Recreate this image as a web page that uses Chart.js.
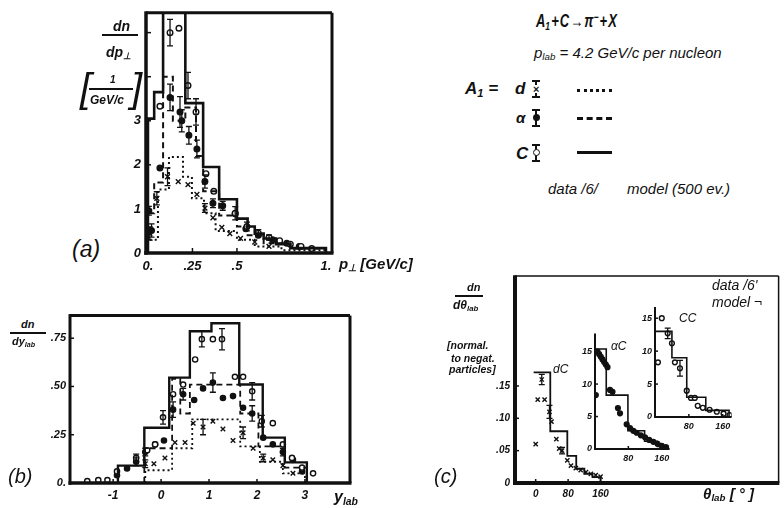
<!DOCTYPE html>
<html>
<head>
<meta charset="utf-8">
<script src="https://cdn.jsdelivr.net/npm/chart.js@4.4.1/dist/chart.umd.min.js"></script>
<style>
  html, body { margin: 0; padding: 0; background: #fff; }
  #page { position: relative; width: 784px; height: 508px; overflow: hidden;
    font-family: 'Liberation Sans', Arial, sans-serif; font-style: italic; font-weight: bold; color: #111; }
  canvas { position: absolute; }
  .t { position: absolute; white-space: nowrap; line-height: 1; }
  .bar { position: absolute; background: #111; }
  .ln { position: absolute; width: 35px; height: 0; border-top: 3px solid #111; }
  .eb { position: absolute; width: 8px; height: 18px; }
  .eb .v { position: absolute; left: 3px; top: 0; width: 2px; height: 18px; background: #111; }
  .eb .c1, .eb .c2 { position: absolute; left: 0; width: 8px; height: 2px; background: #111; }
  .eb .c1 { top: 0; } .eb .c2 { bottom: 0; }
  .eb .m { position: absolute; left: 0; top: 5px; width: 8px; height: 8px; font-size: 11px; text-align: center; line-height: 8px; }
  sub { font-size: 65%; vertical-align: -0.25em; }
  sup { font-size: 65%; vertical-align: 0.55em; }
</style>
</head>
<body>
<div id="page">
  <canvas id="chartA" width="224" height="276" style="left:118px;top:0px"></canvas>
  <canvas id="chartB" width="320" height="200" style="left:40px;top:305px"></canvas>
  <canvas id="chartC" width="300" height="243" style="left:484px;top:265px"></canvas>
  <canvas id="chartCA" width="105" height="145" style="left:570px;top:325px"></canvas>
  <canvas id="chartCC" width="109" height="142" style="left:628px;top:298px"></canvas>

  <!-- panel (a) labels -->
  <div class="t" style="left:113px;top:19px;font-size:14px">dn</div>
  <div class="bar" style="left:102px;top:34px;width:36px;height:2px"></div>
  <div class="t" style="left:106px;top:45px;font-size:14px">dp<sub>⊥</sub></div>
  <div class="t" style="left:80px;top:68px;font-size:40px;font-weight:normal">[</div>
  <div class="t" style="left:110px;top:75px;font-size:10px">1</div>
  <div class="bar" style="left:89px;top:88px;width:44px;height:1.5px"></div>
  <div class="t" style="left:90px;top:94px;font-size:12px">GeV/c</div>
  <div class="t" style="left:131px;top:68px;font-size:40px;font-weight:normal">]</div>
  <div class="t" style="left:72px;top:238px;font-size:23px;font-weight:normal">(a)</div>
  <div class="t" style="left:339px;top:256px;font-size:15px">p<sub>⊥</sub> [GeV/c]</div>

  <!-- legend -->
  <div class="t" style="left:536px;top:11px;font-size:18px;transform:scaleX(0.72);transform-origin:left top">A<sub>1</sub>&#8202;+&#8202;C&#8202;→&#8202;π<sup>−</sup>&#8202;+&#8202;X</div>
  <div class="t" style="left:534px;top:45px;font-size:15px;font-weight:normal">p<sub>lab</sub> = 4.2 GeV/c per nucleon</div>
  <div class="t" style="left:465px;top:80px;font-size:17px">A<sub>1</sub> =</div>
  <div class="t" style="left:515px;top:80px;font-size:17px">d</div>
  <div class="t" style="left:516px;top:110px;font-size:15px">α</div>
  <div class="t" style="left:516px;top:145px;font-size:17px">C</div>
  <div class="eb" style="left:532px;top:80px"><div class="v"></div><div class="c1"></div><div class="c2"></div><div class="m" style="background:#fff">×</div></div>
  <div class="eb" style="left:532px;top:109px"><div class="v"></div><div class="c1"></div><div class="c2"></div><div class="m"><div style="width:7px;height:7px;border-radius:50%;background:#111;margin:0 auto"></div></div></div>
  <div class="eb" style="left:532px;top:144px"><div class="v"></div><div class="c1"></div><div class="c2"></div><div class="m"><div style="width:5px;height:5px;border-radius:50%;border:1.5px solid #111;background:#fff;margin:0 auto"></div></div></div>
  <div class="ln" style="left:577px;top:89px;border-top-style:dotted"></div>
  <div class="ln" style="left:577px;top:117px;border-top-style:dashed"></div>
  <div class="ln" style="left:577px;top:151px"></div>
  <div class="t" style="left:548px;top:181px;font-size:15px;font-weight:normal">data /6/</div>
  <div class="t" style="left:627px;top:181px;font-size:15px;font-weight:normal">model (500 ev.)</div>

  <!-- panel (b) labels -->
  <div class="t" style="left:21px;top:319px;font-size:11px">dn</div>
  <div class="bar" style="left:10px;top:332px;width:36px;height:1.5px"></div>
  <div class="t" style="left:12px;top:336px;font-size:11px">dy<sub>lab</sub></div>
  <div class="t" style="left:8px;top:466px;font-size:20px;font-weight:normal">(b)</div>
  <div class="t" style="left:334px;top:489px;font-size:16px">y<sub>lab</sub></div>

  <!-- panel (c) labels -->
  <div class="t" style="left:467px;top:282px;font-size:11px">dn</div>
  <div class="bar" style="left:455px;top:295px;width:28px;height:1.5px"></div>
  <div class="t" style="left:453px;top:299px;font-size:12px">dθ<sub>lab</sub></div>
  <div class="t" style="left:447px;top:340px;font-size:10.5px">[normal.</div>
  <div class="t" style="left:451px;top:353px;font-size:10.5px">to negat.</div>
  <div class="t" style="left:449px;top:364px;font-size:10.5px">particles]</div>
  <div class="t" style="left:434px;top:466px;font-size:20px;font-weight:normal">(c)</div>
  <div class="t" style="left:703px;top:486px;font-size:15px">θ<sub>lab</sub> [ ° ]</div>
  <div class="t" style="left:712px;top:278px;font-size:14px;font-weight:normal">data /6'</div>
  <div class="t" style="left:712px;top:295px;font-size:14px;font-weight:normal">model ¬</div>
  <div class="t" style="left:553px;top:363px;font-size:12px;font-weight:normal">dC</div>
  <div class="t" style="left:611px;top:340px;font-size:12px;font-weight:normal">αC</div>
  <div class="t" style="left:679px;top:312px;font-size:12px;font-weight:normal">CC</div>
</div>

<script>
'use strict';

// ---- panel (a): dn/dp_perp ----
let aXTicks = [0, 0.25, 0.5, 1.0];
let aXTickLabels = ['0.', '.25', '.5', '1.'];
let aYTicks = [0, 1, 2, 3, 4, 5];
let aYTickLabels = ['0', '1', '2', '3', '', ''];

let aEdgesC = [0, 0.035, 0.085, 0.21, 0.31, 0.40, 0.50, 0.56, 0.60, 0.65, 0.72, 0.80, 1.0];
let aModelC = [3.05, 3.65, 5.6, 3.4, 1.95, 1.22, 0.78, 0.6, 0.44, 0.33, 0.2, 0.11];
let aEdgesA = [0, 0.035, 0.085, 0.14, 0.21, 0.27, 0.31, 0.40, 0.50, 0.56, 0.65, 0.80, 1.0];
let aModelA = [0.9, 1.6, 4.0, 3.0, 3.3, 2.2, 1.4, 0.85, 0.6, 0.4, 0.22, 0.1];
let aEdgesD = [0, 0.056, 0.118, 0.197, 0.247, 0.315, 0.38, 0.5, 0.6, 0.75, 1.0];
let aModelD = [0.3, 1.44, 2.18, 1.73, 1.24, 0.9, 0.5, 0.3, 0.15, 0.06];

let aDataCx = [0.067, 0.124, 0.174, 0.225, 0.27, 0.326, 0.37, 0.49, 0.556, 0.62, 0.68, 0.74, 0.8, 0.86, 0.92];
let aDataCy = [3.33, 5.0, 5.1, 3.8, 3.2, 1.8, 1.4, 0.9, 0.6, 0.45, 0.35, 0.28, 0.2, 0.15, 0.1];
let aDataCe = [0, 0.3, 0, 0.3, 0.3, 0, 0, 0.15, 0.1, 0.08, 0.06, 0, 0, 0, 0];
let aDataAx = [0.005, 0.02, 0.067, 0.124, 0.18, 0.19, 0.23, 0.275, 0.32, 0.365, 0.42, 0.49, 0.55, 0.62, 0.7, 0.78, 0.85];
let aDataAy = [0.96, 0.51, 1.93, 3.53, 3.2, 3.0, 2.67, 2.36, 1.62, 1.13, 1.07, 0.89, 0.55, 0.4, 0.3, 0.22, 0.15];
let aDataAe = [0.1, 0.15, 0, 0.3, 0.35, 0.25, 0.2, 0.2, 0.15, 0.1, 0.1, 0, 0, 0, 0, 0, 0];
let aDataDx = [0.01, 0.05, 0.11, 0.17, 0.225, 0.275, 0.32, 0.365, 0.415, 0.46, 0.52, 0.6, 0.68];
let aDataDy = [0.44, 1.24, 1.73, 1.62, 1.55, 1.33, 1.02, 0.8, 0.58, 0.44, 0.33, 0.25, 0.15];
let aDataDe = [0.15, 0.15, 0.2, 0, 0, 0, 0.1, 0, 0, 0, 0, 0, 0];

// ---- panel (b): dn/dy_lab ----
let bXTicks = [-1, 0, 1, 2, 3];
let bXTickLabels = ['-1', '0', '1', '2', '3'];
let bYTicks = [0, 0.25, 0.5, 0.75];
let bYTickLabels = ['0.', '.25', '.50', '.75'];

let bEdgesC = [-0.9, -0.35, 0.17, 0.6, 1.05, 1.63, 2.12, 2.58, 3.04];
let bModelC = [0.09, 0.286, 0.546, 0.786, 0.827, 0.51, 0.235, 0.107];
let bEdgesA = [-0.35, 0.23, 0.4, 0.6, 1.65, 2.03, 2.58, 3.04];
let bModelA = [0.18, 0.54, 0.36, 0.51, 0.36, 0.19, 0.08];
let bEdgesD = [-0.33, 0.23, 0.65, 1.65, 2.06, 2.54, 3.0];
let bModelD = [0.066, 0.18, 0.33, 0.19, 0.11, 0.05];

let bDataCx = [-1.54, -1.31, -1.12, -0.92, -0.52, -0.29, -0.125, 0.04, 0.25, 0.46, 0.71, 0.85, 1.08, 1.27, 1.54, 1.71, 1.9, 2.1, 2.33, 2.54, 2.73, 2.94, 3.17];
let bDataCy = [0.01, 0.015, 0.015, 0.06, 0.13, 0.17, 0.2, 0.34, 0.46, 0.51, 0.64, 0.745, 0.745, 0.745, 0.55, 0.55, 0.475, 0.32, 0.31, 0.2, 0.13, 0.08, 0.05];
let bDataCe = [0, 0, 0, 0, 0.02, 0, 0, 0.035, 0, 0, 0, 0.04, 0, 0.055, 0, 0, 0.045, 0.03, 0, 0, 0, 0, 0];
let bDataAx = [-0.92, -0.71, -0.52, -0.33, -0.125, 0.06, 0.25, 0.46, 0.69, 0.875, 1.08, 1.29, 1.5, 1.71, 1.9, 2.13, 2.33, 2.54, 2.75, 2.94];
let bDataAy = [0.04, 0.075, 0.11, 0.16, 0.2, 0.22, 0.38, 0.46, 0.43, 0.49, 0.52, 0.44, 0.45, 0.39, 0.36, 0.235, 0.2, 0.16, 0.12, 0.06];
let bDataAe = [0, 0, 0.02, 0.02, 0, 0, 0.04, 0.03, 0, 0, 0.05, 0, 0, 0, 0.04, 0, 0, 0.02, 0, 0];
let bDataDx = [-0.33, -0.15, 0.08, 0.29, 0.5, 0.67, 0.875, 1.08, 1.29, 1.5, 1.71, 1.92, 2.13, 2.33, 2.54, 2.75];
let bDataDy = [0.1, 0.1, 0.13, 0.21, 0.21, 0.31, 0.29, 0.32, 0.28, 0.22, 0.26, 0.18, 0.13, 0.12, 0.09, 0.05];
let bDataDe = [0.02, 0, 0, 0, 0, 0, 0.04, 0, 0, 0, 0.03, 0, 0.02, 0, 0, 0];

// ---- panel (c): dn/dtheta_lab, main (dC) and insets (alpha C, CC) ----
let cXTicks = [0, 80, 160];
let cXTickLabels = ['0', '80', '160'];
let cYTicks = [0, 0.05, 0.10, 0.15];
let cYTickLabels = ['0', '.05', '.10', '.15'];
let insYTicks = [0, 5, 10, 15];
let insYTickLabels = ['0', '5', '10', '15'];
let insXTicks = [0, 80, 160];
let insXTickLabels = ['', '80', '160'];

let cEdgesD = [-5, 36, 78, 100, 120, 140, 160];
let cModelD = [0.171, 0.08, 0.042, 0.022, 0.014, 0.009];
let cDataDx = [0, 5, 15, 22, 34, 39, 51, 58, 65, 78, 87, 99, 111, 124, 136, 148, 160];
let cDataDy = [0.06, 0.129, 0.16, 0.129, 0.11, 0.095, 0.068, 0.053, 0.05, 0.035, 0.027, 0.023, 0.02, 0.017, 0.014, 0.012, 0.01];
let cDataDe = [0, 0, 0.008, 0, 0.01, 0, 0, 0, 0.005, 0, 0, 0, 0, 0, 0, 0, 0];

let cEdgesA = [0, 27, 79, 119, 150, 176];
let cModelA = [15.4, 8.3, 2.8, 1.2, 0.4];
let cDataAx = [2, 6, 10, 14, 18, 22, 26, 30, 36, 42, 55, 60, 76, 84, 92, 100, 110, 120, 130, 140, 150, 160, 170];
let cDataAy = [8.3, 15.0, 14.6, 14.2, 13.8, 13.4, 13.0, 12.6, 9.1, 8.8, 6.3, 5.5, 3.8, 3.2, 2.8, 2.5, 2.1, 1.8, 1.4, 1.1, 0.8, 0.5, 0.3];

let cEdgesC = [0, 40, 75, 120, 175];
let cModelC = [13, 9, 3, 1];
let cDataCx = [7, 16, 30, 40, 47, 59, 75, 85, 94, 101, 113, 129, 146, 162, 176];
let cDataCy = [8.3, 15, 12.7, 11.2, 8.3, 7.4, 4.0, 2.9, 2.9, 1.7, 1.4, 1.1, 0.8, 0.5, 0.3];
let cDataCe = [0, 0, 0.8, 0, 0, 1.2, 0, 0, 0, 0, 0, 0, 0, 0, 0];

const FONT = 'Liberation Sans, Arial, sans-serif';

// step outline; 'open' skips the rise from zero at the left edge
function hist(edges, vals, open) {
  let pts = open ? [] : [{ x: edges[0], y: 0 }];
  for (let i = 0; i < vals.length; i++) pts.push({ x: edges[i], y: vals[i] });
  pts.push({ x: edges[edges.length - 1], y: vals[vals.length - 1] });
  pts.push({ x: edges[edges.length - 1], y: 0 });
  return pts;
}

function pts(xs, ys) {
  return xs.map((x, i) => ({ x: x, y: ys[i] }));
}

// stepped 'before': horizontal at previous value, then vertical at the next edge
function histSet(edges, vals, dash, width, open) {
  return {
    type: 'line', data: hist(edges, vals, open), stepped: 'before',
    borderColor: '#111', borderWidth: width, borderDash: dash,
    pointRadius: 0, fill: false
  };
}

function markSet(xs, ys, errs, kind, r) {
  let set = {
    type: 'scatter', data: pts(xs, ys), errors: errs, showLine: false,
    pointRadius: r, pointBorderColor: '#111', pointBorderWidth: 1.4
  };
  if (kind === 'open') { set.pointStyle = 'circle'; set.pointBackgroundColor = '#fff'; }
  if (kind === 'fill') { set.pointStyle = 'circle'; set.pointBackgroundColor = '#111'; }
  if (kind === 'cross') { set.pointStyle = 'crossRot'; set.pointBackgroundColor = '#111'; set.pointRadius = r + 0.8; }
  return set;
}

// frame, inward ticks and error bars
let drawExtras = {
  id: 'drawExtras',
  afterDatasetsDraw(chart, args, opts) {
    let ctx = chart.ctx;
    let a = chart.chartArea;
    ctx.save();
    ctx.strokeStyle = '#111';
    // error bars
    chart.data.datasets.forEach((ds, di) => {
      if (!ds.errors) return;
      let meta = chart.getDatasetMeta(di);
      let ys = chart.scales.y;
      ctx.lineWidth = 1.3;
      ds.errors.forEach((e, i) => {
        if (!e) return;
        let p = meta.data[i];
        let y1 = ys.getPixelForValue(ds.data[i].y + e);
        let y2 = ys.getPixelForValue(ds.data[i].y - e);
        ctx.beginPath();
        ctx.moveTo(p.x, y1); ctx.lineTo(p.x, y2);
        ctx.moveTo(p.x - 3, y1); ctx.lineTo(p.x + 3, y1);
        ctx.moveTo(p.x - 3, y2); ctx.lineTo(p.x + 3, y2);
        ctx.stroke();
      });
    });
    // inward tick marks
    let len = opts.tick || 5;
    ctx.lineWidth = 1.5;
    chart.scales.x.ticks.forEach(t => {
      let x = chart.scales.x.getPixelForValue(t.value);
      ctx.beginPath(); ctx.moveTo(x, a.bottom); ctx.lineTo(x, a.bottom - len); ctx.stroke();
    });
    chart.scales.y.ticks.forEach(t => {
      let y = chart.scales.y.getPixelForValue(t.value);
      ctx.beginPath(); ctx.moveTo(a.left, y); ctx.lineTo(a.left + len, y); ctx.stroke();
    });
    // frame sides
    let s = opts.sides || {};
    let side = (w, x1, y1, x2, y2) => {
      if (!w) return;
      ctx.lineWidth = w;
      ctx.beginPath(); ctx.moveTo(x1, y1); ctx.lineTo(x2, y2); ctx.stroke();
    };
    side(s.top, a.left, a.top, a.right, a.top);
    side(s.right, a.right, a.top, a.right, a.bottom);
    side(s.bottom, a.left - (s.left || 0) / 2, a.bottom, a.right + (s.right || 0) / 2, a.bottom);
    side(s.left, a.left, a.top - (s.top || 0) / 2, a.left, a.bottom + (s.bottom || 0) / 2);
    ctx.restore();
  }
};

function axis(min, max, ticks, labels, size, pad, fitKey, fitVal) {
  return {
    type: 'linear', min: min, max: max,
    grid: { display: false, drawTicks: false },
    border: { display: false },
    afterBuildTicks: s => { s.ticks = ticks.map(v => ({ value: v })); },
    afterFit: s => { s[fitKey] = fitVal; },
    ticks: {
      autoSkip: false, maxRotation: 0, padding: pad, color: '#111',
      font: { family: FONT, size: size, style: 'italic', weight: 'bold' },
      callback: (v, i) => labels[i]
    }
  };
}

function makeChart(id, datasets, xAxis, yAxis, pad, extras) {
  let cfg = {
    type: 'scatter',
    data: { datasets: datasets },
    options: {
      responsive: false, animation: false, devicePixelRatio: 1,
      layout: { padding: pad },
      scales: { x: xAxis, y: yAxis },
      plugins: { legend: { display: false }, tooltip: { enabled: false }, drawExtras: extras }
    },
    plugins: [drawExtras]
  };
  new Chart(document.getElementById(id), cfg); //eslint-disable-line
}

Chart.defaults.font.family = FONT; //eslint-disable-line

// panel (a)
makeChart('chartA', [
  histSet(aEdgesC, aModelC, [], 2.6),
  histSet(aEdgesA, aModelA, [6, 4], 2),
  histSet(aEdgesD, aModelD, [2, 3], 2),
  markSet(aDataCx, aDataCy, aDataCe, 'open', 2.8),
  markSet(aDataAx, aDataAy, aDataAe, 'fill', 2.8),
  markSet(aDataDx, aDataDy, aDataDe, 'cross', 2.6)
],
  axis(-0.011, 1.034, aXTicks, aXTickLabels, 13, 6, 'height', 23),
  axis(0, 5.45, aYTicks, aYTickLabels, 13, 5, 'width', 28),
  { top: 12, right: 10, left: 0, bottom: 0 },
  { tick: 5, sides: { top: 3, right: 3, bottom: 3.5, left: 3.5 } });

// panel (b)
makeChart('chartB', [
  histSet(bEdgesC, bModelC, [], 2.4),
  histSet(bEdgesA, bModelA, [6, 4], 1.8),
  histSet(bEdgesD, bModelD, [2, 3], 1.8),
  markSet(bDataCx, bDataCy, bDataCe, 'open', 2.6),
  markSet(bDataAx, bDataAy, bDataAe, 'fill', 2.6),
  markSet(bDataDx, bDataDy, bDataDe, 'cross', 2.4)
],
  axis(-1.9, 3.94, bXTicks, bXTickLabels, 12, 5, 'height', 22),
  axis(0, 0.867, bYTicks, bYTickLabels, 11, 4, 'width', 30),
  { top: 8, right: 10, left: 0, bottom: 0 },
  { tick: 4, sides: { top: 3, right: 3, bottom: 3.5, left: 3 } });

// panel (c) main, dC
makeChart('chartC', [
  histSet(cEdgesD, cModelD, [], 1.8, true),
  markSet(cDataDx, cDataDy, cDataDe, 'cross', 2.2)
],
  axis(-51, 599, cXTicks, cXTickLabels, 10, 5, 'height', 25),
  axis(0, 0.32, cYTicks, cYTickLabels, 10, 5, 'width', 31),
  { top: 7, right: 1, left: 0, bottom: 0 },
  { tick: 4, sides: { top: 1.5, right: 1.5, bottom: 4, left: 4 } });

// inset alpha C
makeChart('chartCA', [
  histSet(cEdgesA, cModelA, [], 1.6),
  markSet(cDataAx, cDataAy, null, 'fill', 2.4)
],
  axis(0, 179, insXTicks, insXTickLabels, 9, 4, 'height', 21),
  axis(0, 17.8, insYTicks, insYTickLabels, 9, 3, 'width', 25),
  { top: 8, right: 5, left: 0, bottom: 0 },
  { tick: 3, sides: { bottom: 2, left: 2 } });

// inset CC
makeChart('chartCC', [
  histSet(cEdgesC, cModelC, [], 1.6),
  markSet(cDataCx, cDataCy, cDataCe, 'open', 2.4)
],
  axis(0, 181, insXTicks, insXTickLabels, 9, 4, 'height', 23),
  axis(0, 16.7, insYTicks, insYTickLabels, 9, 3, 'width', 27),
  { top: 9, right: 5, left: 0, bottom: 0 },
  { tick: 3, sides: { bottom: 2, left: 2 } });
</script>
</body>
</html>
